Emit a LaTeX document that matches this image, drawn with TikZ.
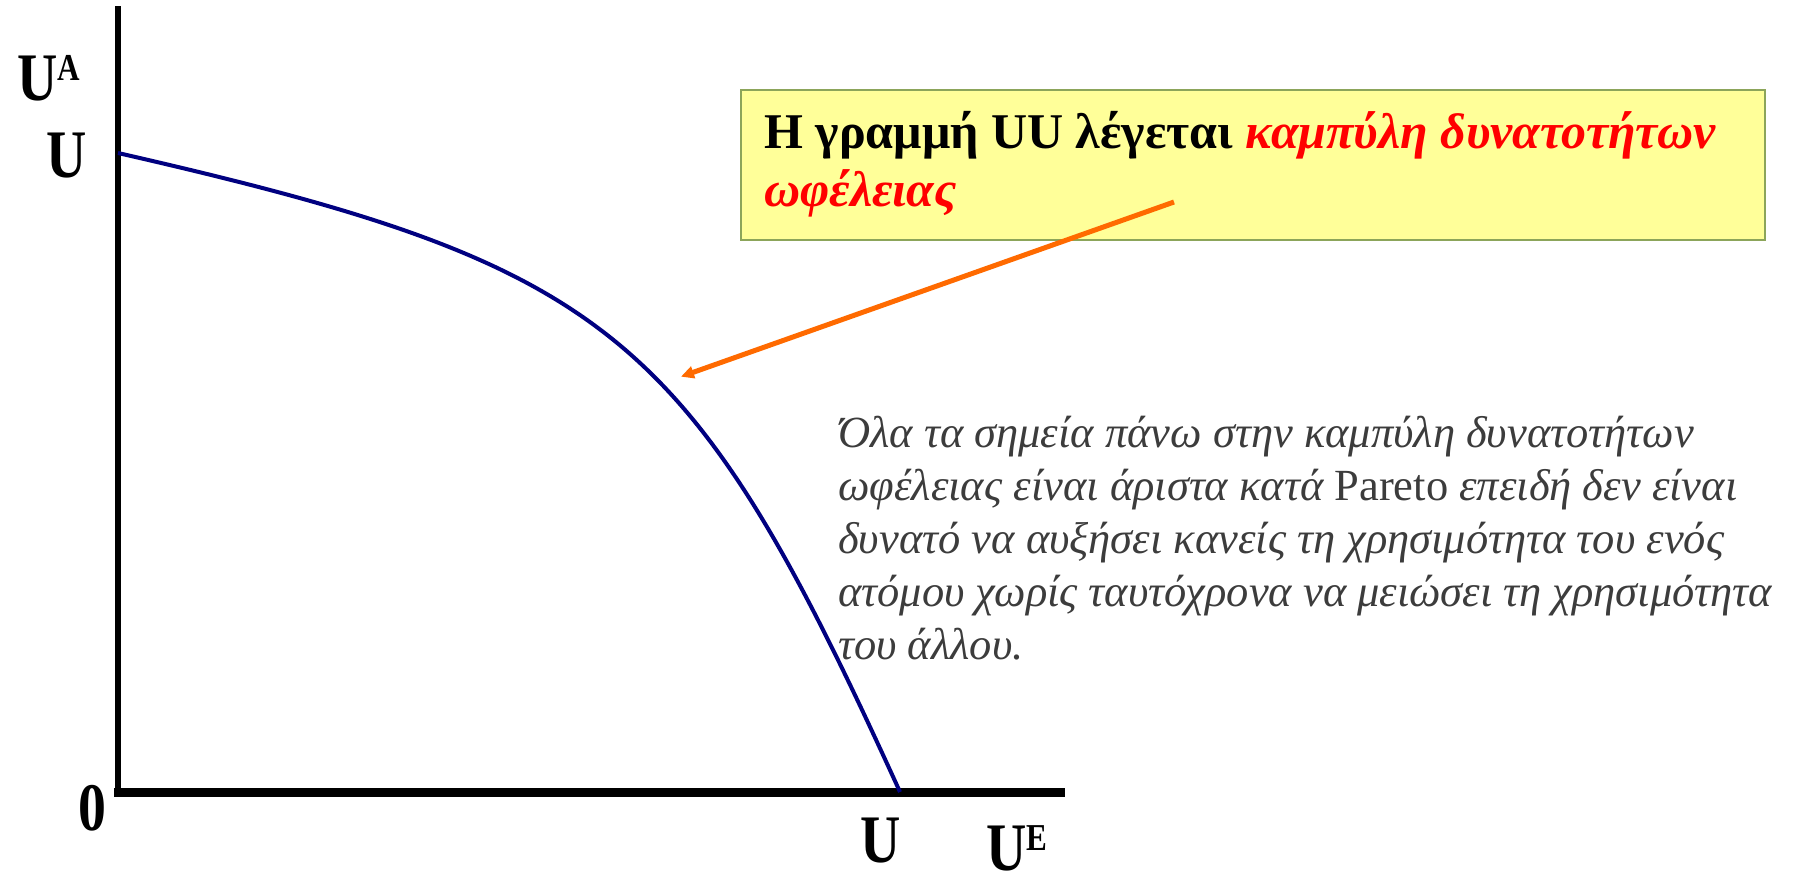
\documentclass[tikz,border=0pt]{standalone}
\usepackage{fontspec}
\setmainfont{Liberation Serif}
\newfontfamily\axisfont[FakeStretch=0.82]{Liberation Serif}
\usepackage{tikz}
\usetikzlibrary{arrows.meta,positioning}
\definecolor{frontblue}{HTML}{000080}
\definecolor{pointorange}{HTML}{FF6A00}
\definecolor{noteyellow}{HTML}{FFFF99}
\definecolor{noteedge}{HTML}{8CA55A}
\definecolor{textgray}{HTML}{3C3C3C}
\newcommand{\axsup}[1]{{\fontsize{38}{38}\selectfont\raisebox{20pt}{#1}}}

\begin{document}
\begin{tikzpicture}[x=1pt, y=-1pt,
    axlbl/.style={inner sep=0pt, anchor=base west, font=\axisfont\bfseries\fontsize{68}{68}\selectfont},
    axline/.style={line width=#1, draw=black},
    front/.style={line width=4pt, draw=frontblue},
    notebox/.style={draw=noteedge, line width=1.5pt, fill=noteyellow, inner sep=0pt},
    noteline/.style={inner sep=0pt, anchor=base west, font=\bfseries\fontsize{50}{57}\selectfont},
    bodyline/.style={inner sep=0pt, anchor=base west, text=textgray, font=\itshape\fontsize{44.5}{53}\selectfont},
    arr/.style={-{Triangle[length=13pt,width=12pt]}, line width=5pt, draw=pointorange, shorten >=1pt}]
\useasboundingbox (0,0) rectangle (1804,884);
\node[notebox, minimum width=1024pt, minimum height=150pt, anchor=north west] (note) at (740,89) {};
\node[noteline] (note1) at (764,148) {Η γραμμή UU λέγεται \textcolor{red}{\itshape καμπύλη δυνατοτήτων}};
\node[noteline] (note2) at (764,206) {\textcolor{red}{\itshape ωφέλειας}};
\foreach \ln [count=\i] in {{Όλα τα σημεία πάνω στην καμπύλη δυνατοτήτων},
    {ωφέλειας είναι άριστα κατά {\upshape Pareto} επειδή δεν είναι},
    {δυνατό να αυξήσει κανείς τη χρησιμότητα του ενός},
    {ατόμου χωρίς ταυτόχρονα να μειώσει τη χρησιμότητα},
    {του άλλου.}} {
  \node[bodyline] (body\i) at (838,{447+(\i-1)*53}) {\ln};
}
\draw[axline=6pt] (118,6) -- (118,796);
\draw[axline=9pt] (114,792) -- (1065,792);
\coordinate (utop) at (118,153);
\coordinate (uend) at (900,792);
\draw[front] (utop) .. controls (612,266) and (690,330) .. (uend);
\coordinate (tail) at (1174,202);
\coordinate (tip) at (680,377);
\draw[arr] (tail) -- (tip);
\node[axlbl] (ua) at (17,100) {U\axsup{A}};
\node[axlbl] (uy) at (46,177) {U};
\node[axlbl] (zero) at (78,830) {0};
\node[axlbl] (ux) at (860,862) {U};
\node[axlbl] (ue) at (986,870) {U\axsup{E}};
\end{tikzpicture}
\end{document}
